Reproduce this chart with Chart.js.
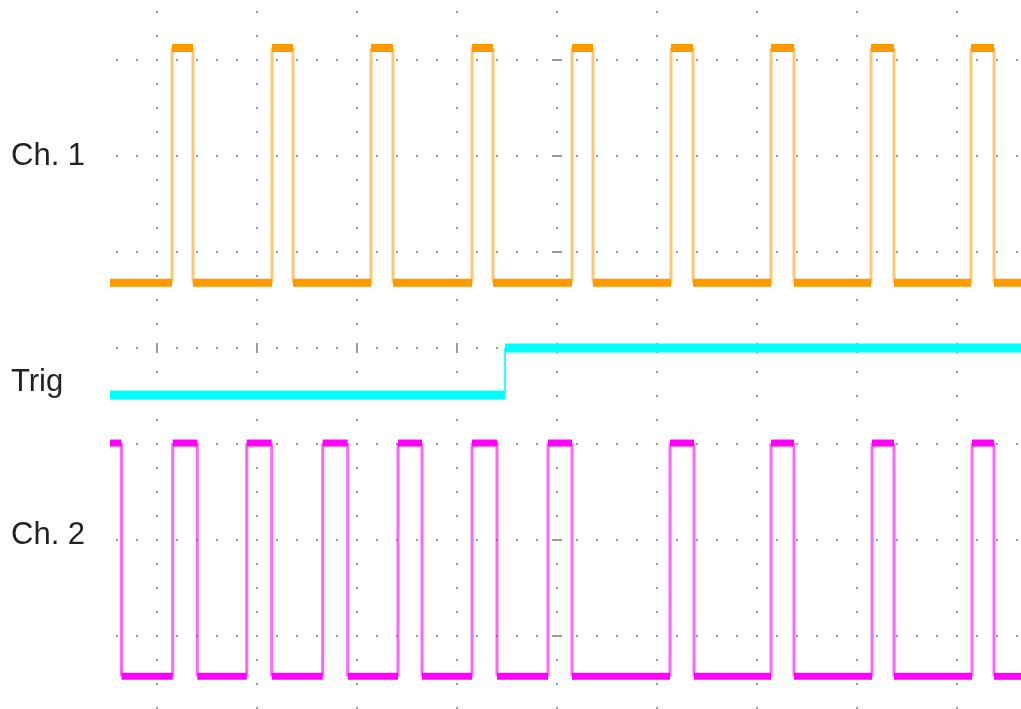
<!DOCTYPE html>
<html>
<head>
<meta charset="utf-8">
<script src="https://cdn.jsdelivr.net/npm/chart.js@4.4.1/dist/chart.umd.min.js"></script>
<style>
  html, body { margin: 0; padding: 0; background: #ffffff; }
  #wrap { position: relative; width: 1021px; height: 709px; }
</style>
</head>
<body>
<div id="wrap"><canvas id="c"></canvas></div>
<script>
// ---- data (time in divisions, amplitude in divisions) ----
const timeWindow = [-4.47, 4.64];
const channelNames = ['Ch. 1', 'Trig', 'Ch. 2'];

const ch1Edges = [-3.85, -3.64, -2.85, -2.64, -1.86, -1.64, -0.85, -0.64, 0.15, 0.36,
                  1.14, 1.36, 2.14, 2.37, 3.14, 3.37, 4.14, 4.37];
const ch1Levels = [0.68, 3.125];   // low, high
const ch1StartHigh = false;

const trigEdges = [-0.52];
const trigLevels = [-0.49, 0.0];
const trigStartHigh = false;

const ch2Edges = [-4.355, -3.843, -3.597, -3.103, -2.853, -2.343, -2.093, -1.59, -1.35,
                  -0.85, -0.60, -0.09, 0.15, 1.13, 1.37, 2.14, 2.37, 3.15, 3.37, 4.15, 4.37];
const ch2Levels = [-3.42, -0.99];
const ch2StartHigh = true;

// ---- build step traces from the arrays ----
function trace(edges, levels, startHigh) {
  let state = startHigh ? 1 : 0;
  const pts = [{ x: timeWindow[0], y: levels[state] }];
  edges.forEach(t => {
    pts.push({ x: t, y: levels[state] });
    state = 1 - state;
    pts.push({ x: t, y: levels[state] });
  });
  pts.push({ x: timeWindow[1], y: levels[state] });
  return pts;
}

function ds(label, data, color, edgeColor, band, edgeW) {
  return {
    label, data,
    borderColor: color,
    borderWidth: band,
    pointRadius: 0,
    tension: 0,
    fill: false,
    clip: false,
    segment: {
      borderWidth: ctx => ctx.p0.parsed.x === ctx.p1.parsed.x ? edgeW : band,
      borderColor: ctx => ctx.p0.parsed.x === ctx.p1.parsed.x ? edgeColor : color
    }
  };
}

// ---- scope graticule (dots, centre ticks) + channel labels ----
const graticule = {
  id: 'graticule',
  beforeDatasetsDraw(chart) {
    const { ctx, scales: { x, y }, chartArea: a } = chart;
    ctx.save();
    ctx.fillStyle = '#9a9a9a';
    const dot = (px, py) => ctx.fillRect(Math.round(px) - 1, Math.round(py) - 1, 2, 2);
    for (let t = -5; t <= 5; t++) {
      const px = x.getPixelForValue(t);
      if (px < a.left || px > a.right) continue;
      for (let v = -4; v <= 4; v += 0.25) {
        const py = y.getPixelForValue(v);
        if (py < a.top || py > a.bottom) continue;
        dot(px, py);
      }
    }
    for (let v = -4; v <= 4; v++) {
      const py = y.getPixelForValue(v);
      if (py < a.top || py > a.bottom) continue;
      for (let t = -5; t <= 5.001; t += 0.2) {
        const px = x.getPixelForValue(t);
        if (px < a.left || px > a.right) continue;
        dot(px, py);
      }
    }
    ctx.strokeStyle = '#9a9a9a';
    ctx.lineWidth = 2;
    const cy = y.getPixelForValue(0), cx = x.getPixelForValue(0);
    for (let t = -5; t <= 5; t++) {
      const px = x.getPixelForValue(t);
      if (px < a.left || px > a.right) continue;
      ctx.beginPath(); ctx.moveTo(Math.round(px), cy - 5); ctx.lineTo(Math.round(px), cy + 5); ctx.stroke();
    }
    for (let v = -4; v <= 4; v++) {
      const py = y.getPixelForValue(v);
      if (py < a.top || py > a.bottom) continue;
      ctx.beginPath(); ctx.moveTo(cx - 5, Math.round(py)); ctx.lineTo(cx + 5, Math.round(py)); ctx.stroke();
    }
    ctx.restore();
  },
  afterDraw(chart) {
    const { ctx } = chart;
    ctx.save();
    ctx.fillStyle = '#222222';
    ctx.font = "31px 'Liberation Sans', Arial, sans-serif";
    ctx.textBaseline = 'alphabetic';
    ctx.textAlign = 'left';
    const baselines = [165, 391, 544];
    channelNames.forEach((n, i) => ctx.fillText(n, 11, baselines[i]));
    ctx.restore();
  }
};

new Chart(document.getElementById('c'), {
  type: 'line',
  data: {
    datasets: [
      ds('Ch. 1', trace(ch1Edges, ch1Levels, ch1StartHigh), '#ff9900', 'rgba(255,153,0,0.55)', 8, 3),
      ds('Trig', trace(trigEdges, trigLevels, trigStartHigh), '#00ffff', '#33ffff', 9, 2),
      ds('Ch. 2', trace(ch2Edges, ch2Levels, ch2StartHigh), '#ff00ff', 'rgba(255,0,255,0.6)', 7, 3)
    ]
  },
  options: {
    responsive: true,
    maintainAspectRatio: false,
    animation: false,
    events: [],
    layout: { padding: { left: 110, right: 0, top: 0, bottom: 0 } },
    plugins: { legend: { display: false }, tooltip: { enabled: false } },
    scales: {
      x: { type: 'linear', min: timeWindow[0], max: timeWindow[1], display: false },
      y: { type: 'linear', min: -361 / 96, max: 348 / 96, display: false }
    }
  },
  plugins: [graticule]
});
</script>
</body>
</html>
